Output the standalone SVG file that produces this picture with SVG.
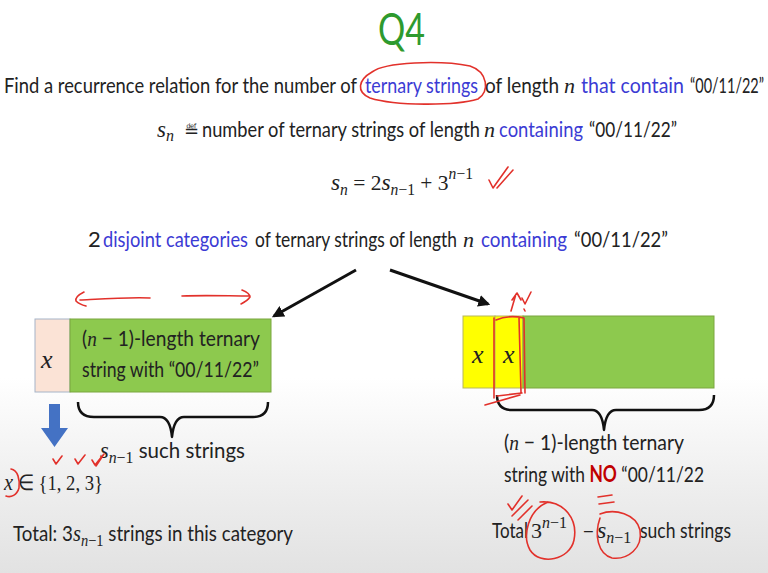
<svg xmlns="http://www.w3.org/2000/svg" width="768" height="573" viewBox="0 0 768 573">
<defs>
<linearGradient id="bg" x1="0" y1="0" x2="0" y2="1">
<stop offset="0" stop-color="#ffffff"/>
<stop offset="0.66" stop-color="#ffffff"/>
<stop offset="0.85" stop-color="#eeeeee"/>
<stop offset="1" stop-color="#e2e2e2"/>
</linearGradient>
<marker id="ah" viewBox="0 0 10 10" refX="8" refY="5" markerWidth="4" markerHeight="4" orient="auto">
<path d="M0,0 L10,5 L0,10 z" fill="#111"/>
</marker>
<style>
.t{font-family:Lato,"Liberation Sans",sans-serif;font-size:22px;fill:#222}
.b{fill:#3b3bd4}
.m{font-family:"Liberation Serif",serif;font-style:italic}
.n{font-family:"Liberation Serif",serif;font-style:normal}
.mx{font-family:"Liberation Serif",serif;font-style:italic;font-size:26px}
.r{fill:none;stroke:#e2312b;stroke-width:1.6;stroke-linecap:round;stroke-linejoin:round}
.con{fill:none;stroke:#111;stroke-width:3;marker-end:url(#ah)}
.brace{fill:none;stroke:#111;stroke-width:2.5;stroke-linejoin:round}
</style>
</defs>
<rect width="768" height="573" fill="url(#bg)"/>

<text x="378" y="45" font-family="Lato,'Liberation Sans',sans-serif" font-size="44" fill="#2e9a2e" textLength="47" lengthAdjust="spacingAndGlyphs">Q4</text>

<g id="title">
<text class="t" x="4" y="93" textLength="353" lengthAdjust="spacingAndGlyphs">Find a recurrence relation for the number of</text>
<text class="t b" x="365" y="93" textLength="113" lengthAdjust="spacingAndGlyphs">ternary strings</text>
<text class="t" x="485" y="93" textLength="74" lengthAdjust="spacingAndGlyphs">of length</text>
<text class="t m" x="564" y="93">n</text>
<text class="t b" x="581" y="93" textLength="103" lengthAdjust="spacingAndGlyphs">that contain</text>
<text class="t" x="764" y="93" text-anchor="end" textLength="74" lengthAdjust="spacingAndGlyphs">“00/11/22”</text>
</g>

<g id="definition">
<text class="t" x="157" y="137"><tspan class="m" font-size="23">s</tspan><tspan class="m" font-size="16" dy="4">n</tspan></text>
<text x="184" y="137" font-family="'DejaVu Sans',sans-serif" font-size="18" fill="#222">≝</text>
<text class="t" x="202" y="137" textLength="278" lengthAdjust="spacingAndGlyphs">number of ternary strings of length</text>
<text class="t m" x="484" y="137" font-size="21">n</text>
<text class="t b" x="499" y="137" textLength="84" lengthAdjust="spacingAndGlyphs">containing</text>
<text class="t" x="589" y="137" textLength="88" lengthAdjust="spacingAndGlyphs">“00/11/22”</text>
</g>

<g id="recurrence">
<text class="t n" x="331" y="190" textLength="142" lengthAdjust="spacingAndGlyphs"><tspan class="m" font-size="24">s</tspan><tspan class="m" font-size="16" dy="5">n</tspan><tspan dy="-5"> = 2</tspan><tspan class="m" font-size="24">s</tspan><tspan font-size="16" dy="5"><tspan class="m">n</tspan>−1</tspan><tspan dy="-5"> + 3</tspan><tspan font-size="16" dy="-11"><tspan class="m">n</tspan>−1</tspan></text>
</g>

<g id="categories">
<text class="t" x="88" y="247">2</text>
<text class="t b" x="103" y="247" textLength="145" lengthAdjust="spacingAndGlyphs">disjoint categories</text>
<text class="t" x="255" y="247" textLength="202" lengthAdjust="spacingAndGlyphs">of ternary strings of length</text>
<text class="t m" x="463" y="247" font-size="21">n</text>
<text class="t b" x="481" y="247" textLength="86" lengthAdjust="spacingAndGlyphs">containing</text>
<text class="t" x="574" y="247" textLength="94" lengthAdjust="spacingAndGlyphs">“00/11/22”</text>
</g>

<g id="connectors">
<line class="con" x1="356" y1="270" x2="274" y2="316"/>
<line class="con" x1="390" y1="270" x2="488" y2="304"/>
</g>

<g id="left-box">
<rect x="35" y="319" width="35" height="73" fill="#fbe3d6" stroke="#a6b4c8" stroke-width="1"/>
<rect x="70" y="319" width="201" height="73" fill="#8dc94e" stroke="#7aa63e" stroke-width="1"/>
<text class="mx" x="41" y="368" fill="#222">x</text>
<text class="t" x="82" y="346" textLength="178" lengthAdjust="spacingAndGlyphs">(<tspan class="m">n</tspan> − 1)-length ternary</text>
<text class="t" x="82" y="377" textLength="177" lengthAdjust="spacingAndGlyphs">string with “00/11/22”</text>
</g>

<g id="right-box">
<rect x="463" y="316" width="32" height="72" fill="#ffff00" stroke="#b8b85a" stroke-width="1"/>
<rect x="495" y="316" width="28" height="72" fill="#ffff00" stroke="#b8b85a" stroke-width="1"/>
<rect x="523" y="316" width="191" height="72" fill="#8dc94e" stroke="#7aa63e" stroke-width="1"/>
<text class="mx" x="472" y="363" fill="#222">x</text>
<text class="mx" x="503" y="363" fill="#222">x</text>
</g>

<g id="left-brace">
<path class="brace" d="M78,402 Q78,417 94,417 L160,417 Q170,417 172,437 Q174,417 184,417 L253,417 Q268,417 268,402"/>
<path d="M49,404 H60 V428 H68 L54.5,447 L41,428 H49 Z" fill="#4472c4"/>
</g>

<g id="left-text">
<text class="t" x="100" y="458" textLength="145" lengthAdjust="spacingAndGlyphs"><tspan class="m" font-size="24">s</tspan><tspan font-size="17" dy="5"><tspan class="m">n</tspan><tspan class="n">−1</tspan></tspan><tspan dy="-5"> such strings</tspan></text>
<text class="t n" x="4" y="490" textLength="99" lengthAdjust="spacingAndGlyphs"><tspan class="m" font-size="24">x</tspan> ∈ {1, 2, 3}</text>
<text class="t" x="13" y="541" textLength="280" lengthAdjust="spacingAndGlyphs">Total: 3<tspan class="m" font-size="24">s</tspan><tspan font-size="17" dy="5"><tspan class="m">n</tspan><tspan class="n">−1</tspan></tspan><tspan dy="-5"> strings in this category</tspan></text>
</g>

<g id="right-brace">
<path class="brace" d="M497,395 Q497,410 512,410 L592,410 Q602,410 604,430 Q606,410 616,410 L699,410 Q714,410 714,395"/>
</g>

<g id="right-text">
<text class="t" x="504" y="450" textLength="180" lengthAdjust="spacingAndGlyphs">(<tspan class="m">n</tspan> − 1)-length ternary</text>
<text class="t" x="504" y="482" textLength="200" lengthAdjust="spacingAndGlyphs">string with <tspan fill="#c00000" font-weight="bold">NO</tspan> “00/11/22</text>
<text class="t" x="492" y="538" textLength="36" lengthAdjust="spacingAndGlyphs">Total</text>
<text class="t n" x="531" y="538">3<tspan font-size="16" dy="-10"><tspan class="m">n</tspan>−1</tspan></text>
<text class="t" x="582" y="538">–</text>
<text class="t" x="597" y="538"><tspan class="m" font-size="24">s</tspan><tspan font-size="16" dy="5"><tspan class="m">n</tspan><tspan class="n">−1</tspan></tspan></text>
<text class="t" x="640" y="538" textLength="91" lengthAdjust="spacingAndGlyphs">such strings</text>
</g>

<g id="annotations">
<path class="r" d="M372,72 C385,62 440,60 470,66 C488,72 490,92 478,99 C455,106 395,106 370,98 C356,92 358,80 372,72"/>
<path class="r" d="M489,180 L493,188 L508,167 M497,188 L513,170"/>
<path class="r" d="M150,298 C130,297 100,299 80,300 M84,292 C78,295 75,298 76,301 C78,303 82,305 86,306"/>
<path class="r" d="M182,296 C205,295 230,296 250,296 M242,290 C247,292 250,295 250,297 C248,300 245,302 241,304"/>
<path class="r" d="M494,318 L494,398 M496,320 C505,316 515,316 524,318 L525,393 M497,396 L522,393 M485,405 L520,395 M519,318 L521,392"/>
<path class="r" d="M511,311 L516,294 M512,300 L517,293 L521,300 M522,298 L525,304 L531,292 M524,309 L525,311"/>
<path class="r" d="M53,459 L56,464 L62,456 M75,459 L78,464 L85,455 M92,460 L95,465 L103,455 M96,466 L104,454"/>
<path class="r" d="M11,469 C18,470 20,480 19,488 C17,495 11,498 6,496"/>
<path class="r" d="M540,502 C565,500 578,520 574,540 C570,560 540,566 530,550 C522,536 528,510 548,502"/>
<path class="r" d="M600,514 C615,508 636,514 640,530 C643,548 628,560 612,558 C598,554 594,535 600,518"/>
<path class="r" d="M598,497 L612,495 M599,504 L614,502"/>
<path class="r" d="M508,504 L512,510 L522,496 M512,516 L528,500 M518,520 L532,506"/>
</g>
</svg>
